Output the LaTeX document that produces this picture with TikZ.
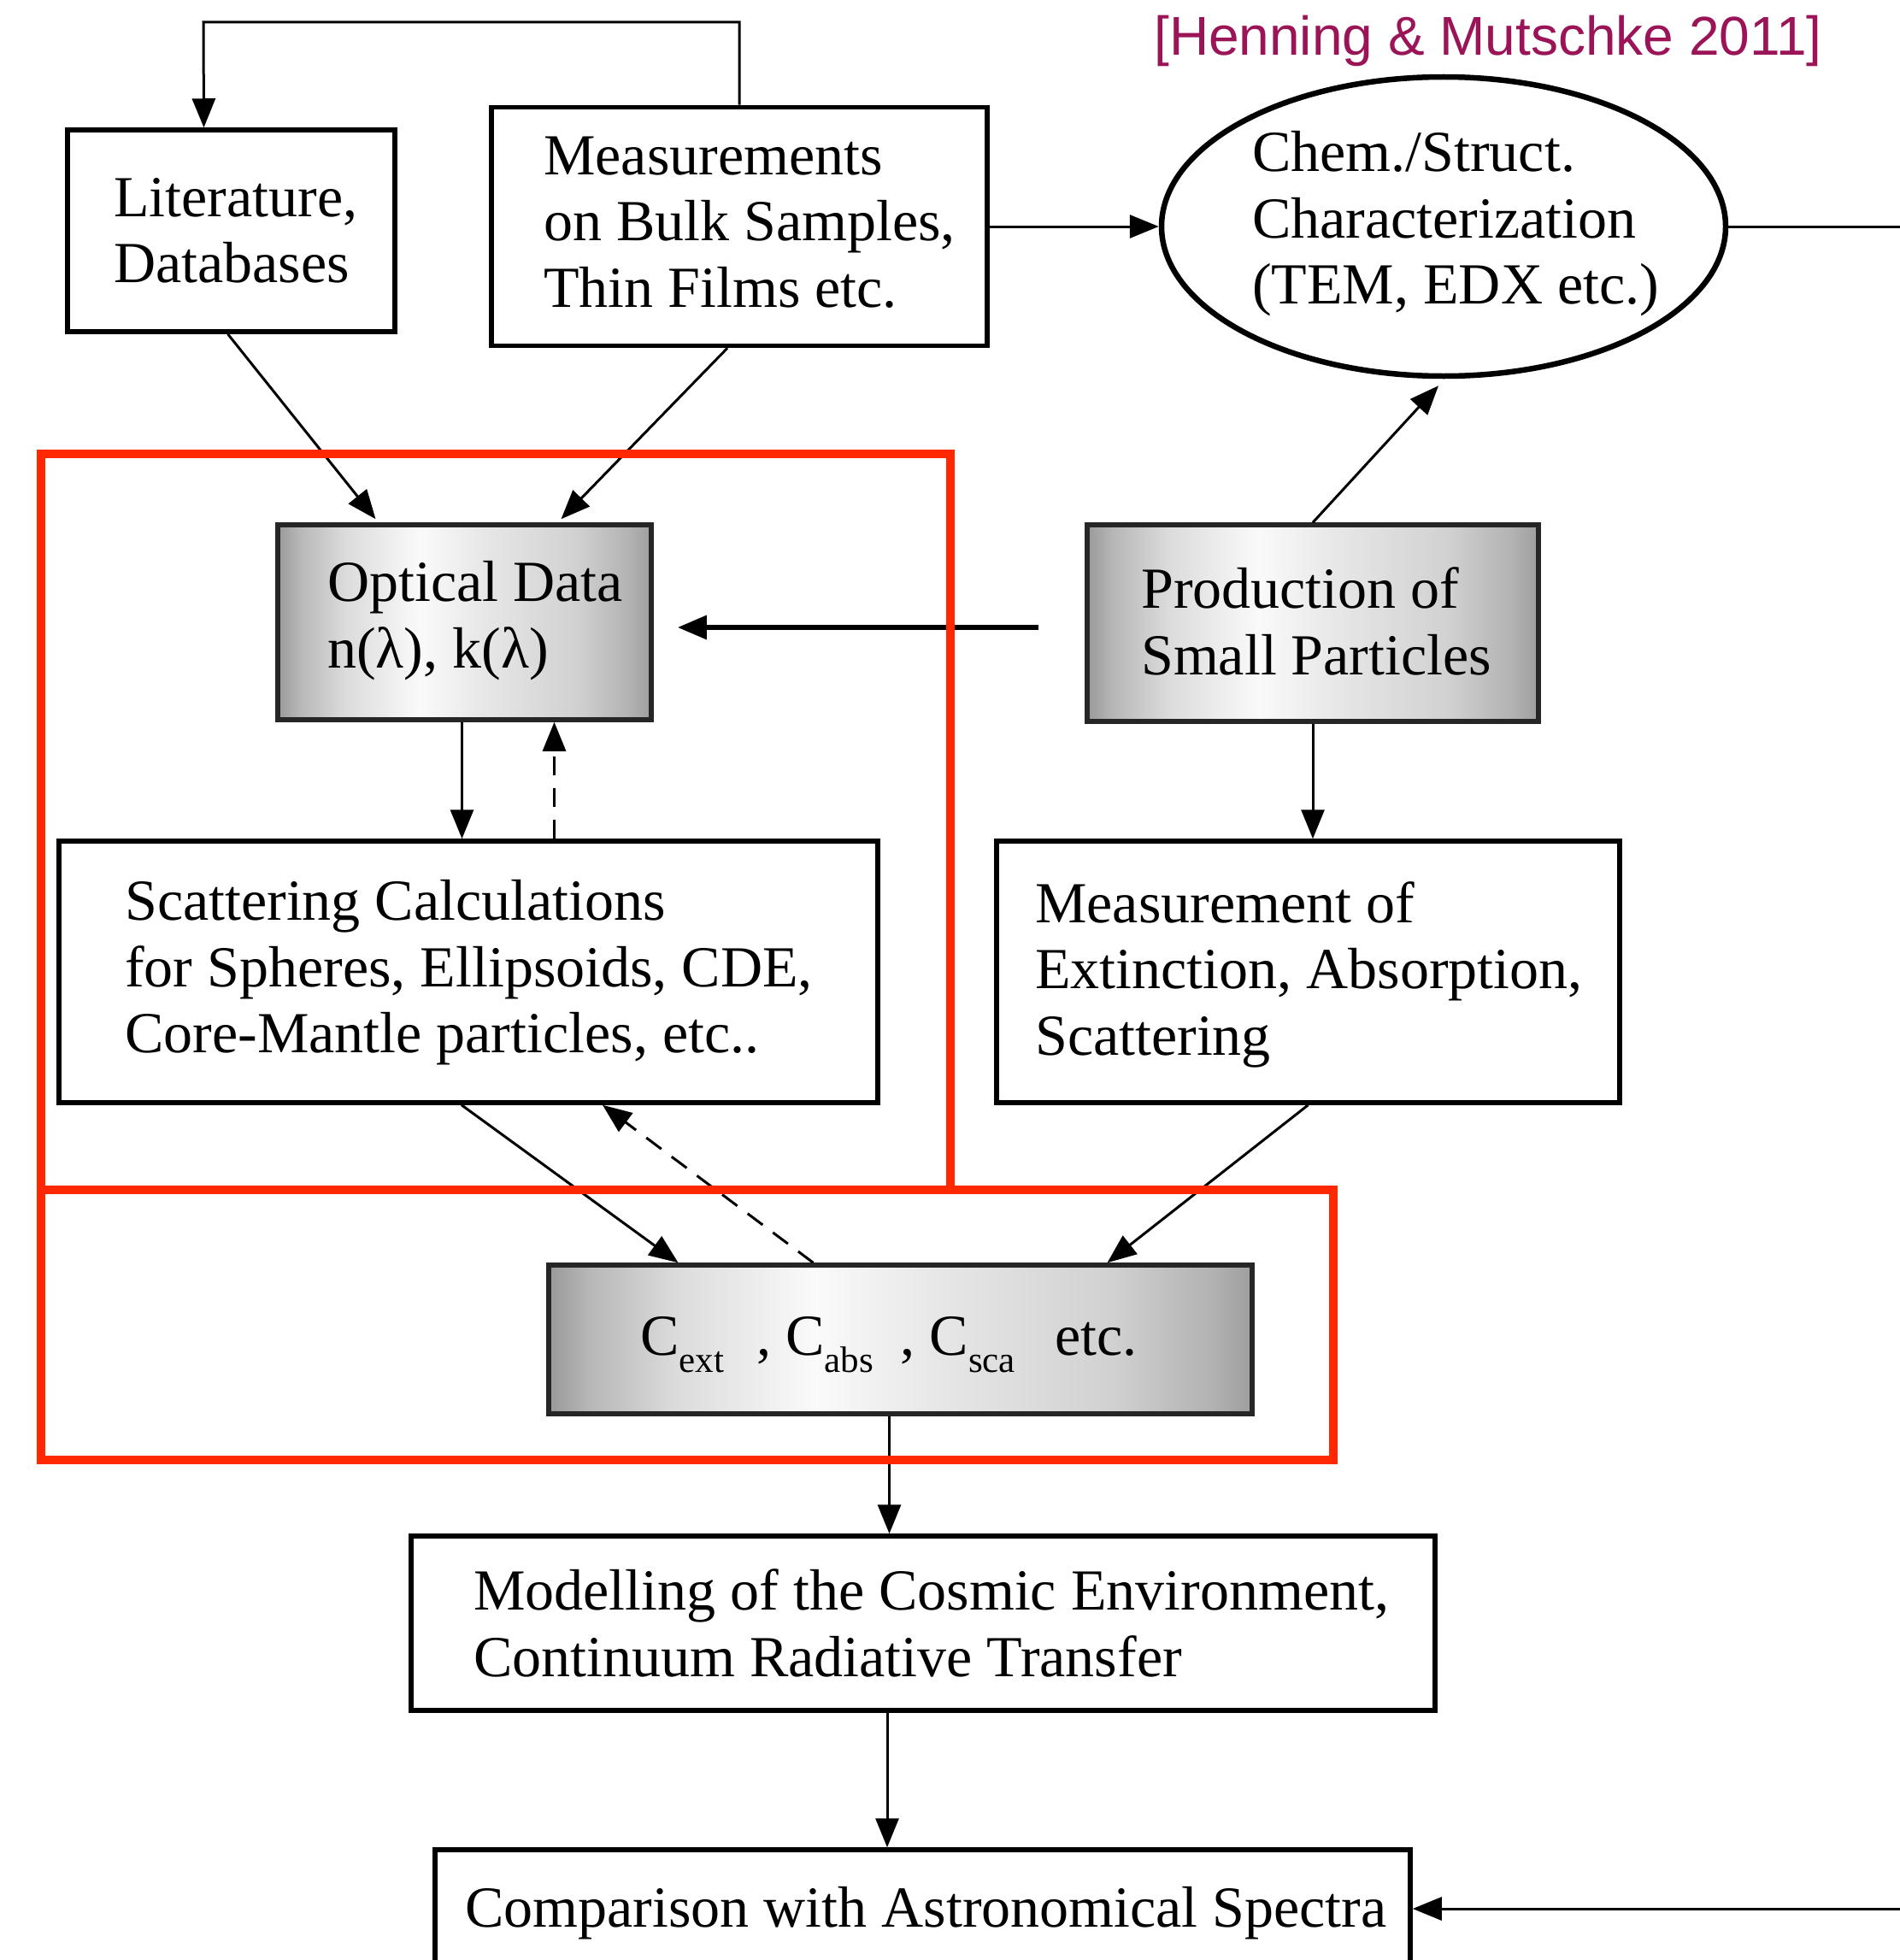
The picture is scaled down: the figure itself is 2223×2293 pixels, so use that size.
\documentclass[tikz,border=0pt]{standalone}
\usepackage{fontspec}
\setmainfont{Liberation Serif}
\newfontfamily\citefont{Liberation Sans}
\usetikzlibrary{arrows.meta,shapes.geometric}
\definecolor{citecol}{RGB}{156,20,88}
\definecolor{framered}{RGB}{255,40,0}
% brushed-metal fill; the box spans the range 25bp..75bp of the shading
\pgfdeclarehorizontalshading{metal}{100bp}{color(0bp)=(black!40); color(25bp)=(black!40); color(28bp)=(black!28); color(34bp)=(black!14); color(44bp)=(black!2); color(52bp)=(black!9); color(65bp)=(black!18); color(72bp)=(black!30); color(75bp)=(black!38); color(100bp)=(black!38)}
\tikzset{
  wbox/.style={draw=black, line width=5.5pt, fill=white, inner sep=0pt},
  gbox/.style={draw=black!85, line width=5.5pt, shading=metal, inner sep=0pt},
  txt/.style={font=\fontsize{68}{77.5}\selectfont, align=left, inner sep=0pt, anchor=west},
  conn/.style={line width=3pt, -{Triangle[length=34pt,width=27pt]}},
  plain/.style={line width=3pt},
  dashconn/.style={conn, dash pattern=on 22pt off 15pt},
  redframe/.style={draw=framered, line width=10pt}
}
\begin{document}
\begin{tikzpicture}[x=1pt,y=-1pt]
\useasboundingbox (0,0) rectangle (2223,2293);
\fill[white] (0,0) rectangle (2223,2293);

% citation
\node[font=\citefont\fontsize{64}{70}\selectfont, text=citecol, anchor=base west, inner sep=0pt] (cite) at (1350,65) {[Henning \& Mutschke 2011]};

% boxes
\node[wbox, minimum width=383pt, minimum height=236pt] (lit) at (270.5,270) {};
\node[txt] (lit-t) at (133,270) {Literature,\\Databases};

\node[wbox, minimum width=580pt, minimum height=279pt] (meas) at (865,265) {};
\node[txt] (meas-t) at (636,260) {Measurements\\on Bulk Samples,\\Thin Films etc.};

\node[draw, ellipse, line width=6.5pt, minimum width=660pt, minimum height=350pt, inner sep=0pt] (chem) at (1689,265) {};
\node[txt] (chem-t) at (1465,262) {Chem./Struct.\\Characterization\\(TEM, EDX etc.)};

\node[gbox, minimum width=437pt, minimum height=228pt] (opt) at (543.5,728) {};
\node[txt] (opt-t) at (383,726) {Optical Data\\n(λ), k(λ)};

\node[gbox, minimum width=528pt, minimum height=230pt] (prod) at (1536,729) {};
\node[txt] (prod-t) at (1335,727) {Production of\\Small Particles};

\node[wbox, minimum width=958pt, minimum height=306pt] (scat) at (548,1137) {};
\node[txt] (scat-t) at (146,1138) {Scattering Calculations\\for Spheres, Ellipsoids, CDE,\\Core-Mantle particles, etc..};

\node[wbox, minimum width=729pt, minimum height=306pt] (mext) at (1530.5,1137) {};
\node[txt] (mext-t) at (1211,1140) {Measurement of\\Extinction, Absorption,\\Scattering};

\node[gbox, minimum width=823pt, minimum height=174pt] (cext) at (1053.5,1567) {};
\node[txt, anchor=base west] (cext-t) at (749,1585) {C\raisebox{-0.3em}{\fontsize{43}{43}\selectfont ext}\hspace{38pt}, C\raisebox{-0.3em}{\fontsize{43}{43}\selectfont abs}\hspace{32pt}, C\raisebox{-0.3em}{\fontsize{43}{43}\selectfont sca}\hspace{46pt}etc.};

\node[wbox, minimum width=1198pt, minimum height=204pt] (model) at (1080,1899) {};
\node[txt] (model-t) at (554,1899) {Modelling of the Cosmic Environment,\\Continuum Radiative Transfer};

\node[wbox, minimum width=1141pt, minimum height=150pt] (comp) at (1079.5,2239) {};
\node[txt] (comp-t) at (544,2238) {Comparison with Astronomical Spectra};

% helper points for the loops that leave the picture
\coordinate (loopc) at (238,26);
\coordinate (rightA) at (2223,265);
\coordinate (rightB) at (2223,2233);

% connectors
\draw[conn] (meas.north) |- (loopc) -- ([xshift=-32pt]lit.north);
\draw[conn] (meas.east) -- (chem.west);
\draw[plain] (chem.east) -- (rightA);
\draw[conn] ([xshift=-4pt]lit.south) -- ([xshift=-104pt,yshift=4pt]opt.north);
\draw[conn] ([xshift=-14pt]meas.south) -- ([xshift=113pt,yshift=4pt]opt.north);
\draw[conn] (prod.north) -- ([xshift=-6pt,yshift=-8pt]chem.south);
\draw[conn, line width=6pt, shorten <=54pt, shorten >=28pt] ([yshift=-5pt]prod.west) -- ([yshift=-5pt]prod.west -| opt.east);
\draw[conn] ([xshift=-3pt]opt.south) -- ([xshift=-3pt]opt.south |- scat.north);
\draw[dashconn] ([xshift=105pt]opt.south |- scat.north) -- ([xshift=105pt]opt.south);
\draw[conn] (prod.south) -- (prod.south |- mext.north);
\draw[conn] ([xshift=-8pt]scat.south) -- ([xshift=-260pt]cext.north);
\draw[dashconn] ([xshift=-102pt]cext.north) -- ([xshift=157pt]scat.south);
\draw[conn] (mext.south) -- ([xshift=242pt]cext.north);
\draw[conn] ([xshift=-13pt]cext.south) -- ([xshift=-13pt]cext.south |- model.north);
\draw[conn] ([xshift=-42pt]model.south) -- ([xshift=-42pt]model.south |- comp.north);
\draw[conn] (rightB) -- (rightB -| comp.east);

% red frames
\draw[redframe] (48,531) rectangle (1112,1392);
\draw[redframe] (48,1392) rectangle (1560,1708);
\end{tikzpicture}
\end{document}
